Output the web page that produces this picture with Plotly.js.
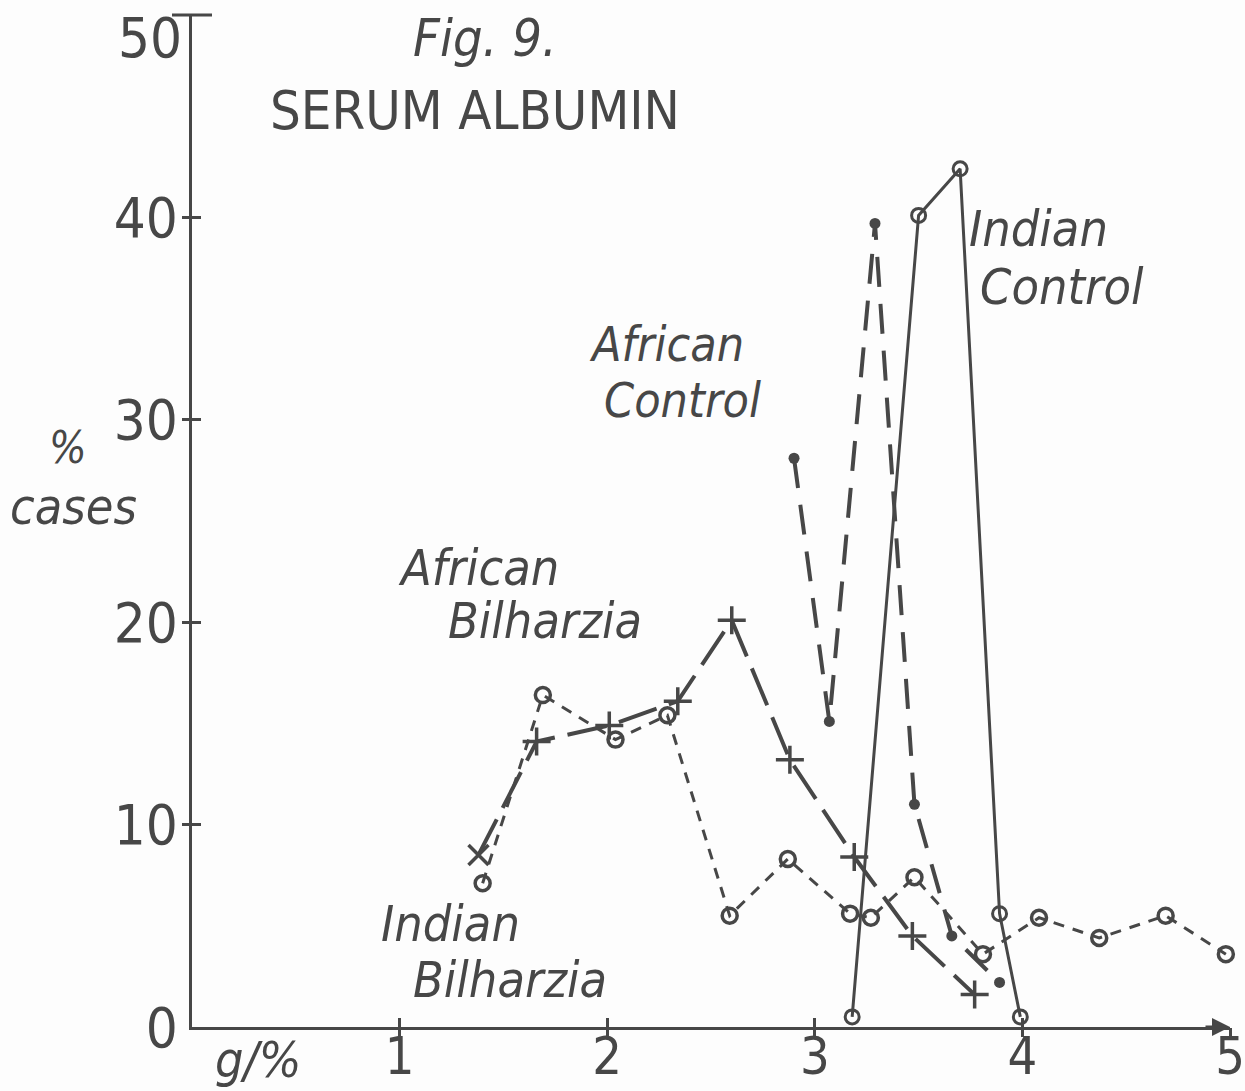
<!DOCTYPE html>
<html>
<head>
<meta charset="utf-8">
<script src="https://cdn.plot.ly/plotly-3.0.1.min.js"></script>
<style>
  html, body { margin: 0; padding: 0; background: #fdfdfd; }
  #chart { width: 1245px; height: 1091px; }
</style>
</head>
<body>
<div id="chart"></div>
<script>
// ---- Data (x: g/%, y: % cases) ----
const indianBilharziaX = [1.40, 1.69, 2.04, 2.29, 2.59, 2.87, 3.17, 3.27, 3.48, 3.81, 4.08, 4.37, 4.69, 4.98];
const indianBilharziaY = [7.1, 16.4, 14.2, 15.4, 5.5, 8.3, 5.6, 5.4, 7.4, 3.6, 5.4, 4.4, 5.5, 3.6];

const africanBilharziaX = [1.38, 1.66, 2.01, 2.34, 2.60, 2.88, 3.19, 3.47, 3.77];
const africanBilharziaY = [8.5, 14.1, 14.9, 16.1, 20.1, 13.2, 8.4, 4.5, 1.6];

const africanControlX = [2.90, 3.07, 3.29, 3.48, 3.66, 3.89];
const africanControlY = [28.1, 15.1, 39.7, 11.0, 4.5, 2.2];

const indianControlX = [3.18, 3.50, 3.70, 3.89, 3.99];
const indianControlY = [0.5, 40.1, 42.4, 5.6, 0.5];

const xTicks = [1, 2, 3, 4, 5];
const yTicks = [0, 10, 20, 30, 40, 50];

// ---- Styling ----
const INK = '#474747';
const FONT = '"DejaVu Sans Condensed", "DejaVu Sans", sans-serif';

const traces = [
  {
    name: 'Indian Bilharzia', x: indianBilharziaX, y: indianBilharziaY,
    mode: 'lines+markers', cliponaxis: false,
    line: { color: INK, width: 3, dash: '11px,9px' },
    marker: { symbol: 'circle-open', size: 15, color: INK, line: { color: INK, width: 3.5 } }
  },
  {
    name: 'African Bilharzia', x: africanBilharziaX, y: africanBilharziaY,
    mode: 'lines+markers', cliponaxis: false,
    line: { color: INK, width: 4, dash: '40px,13px' },
    marker: {
      symbol: africanBilharziaX.map((v, i) => i === 0 ? 'x-thin' : 'cross-thin'),
      size: 20, color: INK, line: { color: INK, width: 3.5 }
    }
  },
  {
    name: 'African Control', x: africanControlX, y: africanControlY,
    mode: 'lines+markers', cliponaxis: false,
    line: { color: INK, width: 4, dash: '30px,17px' },
    marker: { symbol: 'circle', size: 11, color: INK }
  },
  {
    name: 'Indian Control', x: indianControlX, y: indianControlY,
    mode: 'lines+markers', cliponaxis: false,
    line: { color: INK, width: 3 },
    marker: { symbol: 'circle-open', size: 14, color: INK, line: { color: INK, width: 3 } }
  },
  // invisible trace to activate the overlay axes that draw the other half of each crossing tick
  { x: [0], y: [0], xaxis: 'x2', yaxis: 'y2', mode: 'markers', marker: { opacity: 0 }, hoverinfo: 'skip', showlegend: false }
];

// pixel -> paper helpers (plot area: x 192..1230, y 15..1027)
const PX = p => (p - 192) / 1038;
const PY = p => (1027 - p) / 1012;

function lab(text, cx, cy, size, italic) {
  return {
    text: italic ? '<i>' + text + '</i>' : text,
    x: PX(cx), y: PY(cy), xref: 'paper', yref: 'paper',
    showarrow: false, xanchor: 'center', yanchor: 'middle',
    font: { family: FONT, size: size, color: INK }
  };
}

const annotations = [
  lab('Fig. 9.', 485, 38, 52, true),
  lab('SERUM ALBUMIN', 475, 110, 54, false),
  lab('Indian', 1038, 229, 50, true),
  lab('Control', 1062, 287, 50, true),
  lab('African', 666, 344, 48, true),
  lab('Control', 682, 400, 48, true),
  lab('%', 68, 447, 44, true),
  lab('cases', 73, 507, 50, true),
  lab('African', 478, 568, 50, true),
  lab('Bilharzia', 545, 621, 50, true),
  lab('Indian', 450, 924, 50, true),
  lab('Bilharzia', 510, 980, 50, true),
  lab('g/%', 258, 1060, 50, true),
  // the "50" label sits just below its tick in the reference
  lab('50', 150, 38, 56, false),
  // arrow head at the end of the x axis
  { x: 5, y: 0, xref: 'x', yref: 'y', ax: -26, ay: 0, axref: 'pixel', ayref: 'pixel',
    text: '', showarrow: true, arrowhead: 2, arrowsize: 1.2, arrowwidth: 3, arrowcolor: INK }
];

const layout = {
  width: 1245, height: 1091,
  paper_bgcolor: '#fdfdfd', plot_bgcolor: 'rgba(0,0,0,0)',
  margin: { l: 192, r: 15, t: 15, b: 64 },
  showlegend: false,
  font: { family: FONT, color: INK },
  xaxis: {
    range: [0, 5], showgrid: false, zeroline: false,
    showline: true, linecolor: INK, linewidth: 3,
    tickmode: 'array', tickvals: xTicks, ticktext: xTicks.map(String),
    ticks: 'inside', ticklen: 9, tickwidth: 3, tickcolor: INK,
    ticklabelstandoff: -18, ticklabeloverflow: 'allow',
    tickfont: { family: FONT, size: 52, color: INK }
  },
  yaxis: {
    range: [0, 50], showgrid: false, zeroline: false,
    showline: true, linecolor: INK, linewidth: 3,
    tickmode: 'array', tickvals: yTicks,
    ticktext: yTicks.map(v => v === 50 ? '' : String(v)),
    ticks: 'inside', ticklen: 9, tickwidth: 3, tickcolor: INK,
    tickfont: { family: FONT, size: 56, color: INK }
  },
  xaxis2: {
    overlaying: 'x', matches: 'x', range: [0, 5], showgrid: false, zeroline: false,
    showticklabels: false, tickmode: 'array', tickvals: xTicks,
    ticks: 'outside', ticklen: 9, tickwidth: 3, tickcolor: INK
  },
  yaxis2: {
    overlaying: 'y', matches: 'y', range: [0, 50], showgrid: false, zeroline: false,
    showticklabels: false, tickmode: 'array', tickvals: yTicks.slice(1, 5),
    ticks: 'outside', ticklen: 9, tickwidth: 3, tickcolor: INK
  },
  shapes: [
    // cap at the top of the y axis
    { type: 'line', xref: 'paper', yref: 'paper', x0: -20 / 1038, x1: 20 / 1038, y0: 1, y1: 1,
      line: { color: INK, width: 3 } }
  ],
  annotations: annotations
};

Plotly.newPlot('chart', traces, layout, { displayModeBar: false, staticPlot: true });
</script>
</body>
</html>
